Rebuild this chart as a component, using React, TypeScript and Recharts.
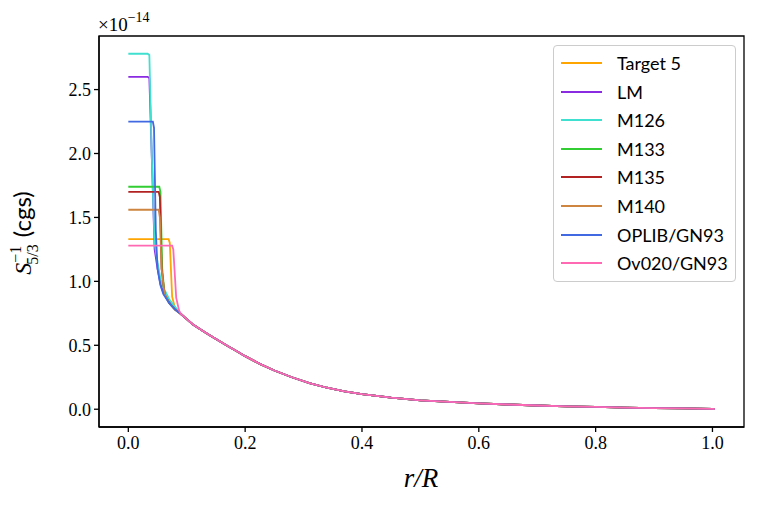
import { Line, LineChart, ReferenceArea, XAxis, YAxis } from 'recharts'

// shared tail of every profile (r/R, value in 1e-14 cgs)
const tailR = [0.09, 0.1, 0.11, 0.125, 0.14, 0.155, 0.17, 0.185, 0.2, 0.225, 0.25, 0.28, 0.31, 0.34, 0.37, 0.4, 0.45, 0.5, 0.55, 0.6, 0.65, 0.7, 0.75, 0.8, 0.85, 0.9, 0.95, 1.0, 1.004]
const tailV = [0.745, 0.705, 0.665, 0.62, 0.577, 0.535, 0.495, 0.455, 0.415, 0.355, 0.303, 0.25, 0.205, 0.168, 0.14, 0.118, 0.09, 0.07, 0.057, 0.046, 0.037, 0.029, 0.023, 0.018, 0.013, 0.009, 0.006, 0.003, 0.0]

// core parts (plateau + drop) per model
const target5R = [0, 0.069, 0.071, 0.075, 0.08]
const target5V = [1.33, 1.33, 1.3, 0.88, 0.79]
const lmR = [0, 0.033, 0.036, 0.04, 0.045, 0.05, 0.055, 0.06, 0.07, 0.08]
const lmV = [2.6, 2.6, 2.59, 2.0, 1.25, 1.1, 0.98, 0.91, 0.84, 0.79]
const m126R = [0, 0.033, 0.036, 0.04, 0.045, 0.05, 0.055, 0.06, 0.07, 0.08]
const m126V = [2.78, 2.78, 2.77, 2.0, 1.3, 1.15, 1.02, 0.95, 0.86, 0.8]
const m133R = [0, 0.053, 0.055, 0.058, 0.062, 0.07, 0.08]
const m133V = [1.74, 1.74, 1.7, 1.1, 0.9, 0.83, 0.78]
const m135R = [0, 0.052, 0.054, 0.057, 0.062, 0.07, 0.08]
const m135V = [1.7, 1.7, 1.66, 1.1, 0.9, 0.83, 0.78]
const m140R = [0, 0.052, 0.054, 0.057, 0.062, 0.07, 0.08]
const m140V = [1.56, 1.56, 1.5, 1.1, 0.9, 0.83, 0.78]
const oplibR = [0, 0.042, 0.044, 0.047, 0.05, 0.055, 0.06, 0.07, 0.08]
const oplibV = [2.25, 2.25, 2.2, 1.4, 1.1, 0.97, 0.9, 0.83, 0.78]
const ov020R = [0, 0.075, 0.077, 0.082, 0.087]
const ov020V = [1.28, 1.28, 1.25, 0.87, 0.77]

const xTicks = [0, 0.2, 0.4, 0.6, 0.8, 1.0]
const yTicks = [0, 0.5, 1.0, 1.5, 2.0, 2.5]

const series = [
  { name: 'Target 5', color: '#ffa500', r: target5R, v: target5V },
  { name: 'LM', color: '#8a2be2', r: lmR, v: lmV },
  { name: 'M126', color: '#40e0d0', r: m126R, v: m126V },
  { name: 'M133', color: '#32cd32', r: m133R, v: m133V },
  { name: 'M135', color: '#b22222', r: m135R, v: m135V },
  { name: 'M140', color: '#cd853f', r: m140R, v: m140V },
  { name: 'OPLIB/GN93', color: '#4169e1', r: oplibR, v: oplibV },
  { name: 'Ov020/GN93', color: '#ff69b4', r: ov020R, v: ov020V },
]

function buildRows(r: number[], v: number[]) {
  const rows = r.map((x, i) => ({ r: x, v: v[i] }))
  tailR.forEach((x, i) => rows.push({ r: x, v: tailV[i] }))
  return rows
}

const X_DOMAIN: [number, number] = [-0.0502, 1.054]
const Y_DOMAIN: [number, number] = [-0.139, 2.919]
const serif = '"Liberation Serif", "DejaVu Serif", serif'
const sans = 'Lato, "DejaVu Sans", sans-serif'
const tickStyle = { fontSize: 18, fontFamily: serif, fill: '#000' }

export default function App() {
  return (
    <div style={{ position: 'relative', width: 764, height: 509, background: '#fff' }}>
      <style>{'body{margin:0}'}</style>
      <LineChart width={764} height={509} margin={{ top: 36, right: 20, bottom: 52, left: 39 }}>
        <XAxis
          type="number"
          dataKey="r"
          domain={X_DOMAIN}
          ticks={xTicks}
          allowDataOverflow
          tickFormatter={(t: number) => t.toFixed(1)}
          tick={tickStyle}
          tickSize={5}
          tickMargin={4}
          height={30}
          stroke="#000"
          axisLine={{ stroke: '#000', strokeWidth: 1.3 }}
          tickLine={{ stroke: '#000', strokeWidth: 1.3 }}
          label={{
            content: () => (
              <text x={421} y={487} textAnchor="middle" fontFamily={serif} fontStyle="italic" fontSize={27} fill="#000">
                r/R
              </text>
            ),
          }}
        />
        <YAxis
          type="number"
          domain={Y_DOMAIN}
          ticks={yTicks}
          allowDataOverflow
          tickFormatter={(t: number) => t.toFixed(1)}
          tick={tickStyle}
          tickSize={5}
          tickMargin={3}
          width={60}
          axisLine={{ stroke: '#000', strokeWidth: 1.3 }}
          tickLine={{ stroke: '#000', strokeWidth: 1.3 }}
          label={{
            content: () => (
              <text transform="translate(31,233) rotate(-90)" x={0} y={0} textAnchor="middle" fontSize={24} fill="#000">
                <tspan fontFamily={serif} fontStyle="italic">S</tspan>
                <tspan fontFamily={serif} fontSize={16} dy={-10}>−1</tspan>
                <tspan fontFamily={serif} fontSize={16} dx={-19} dy={17}>5/3</tspan>
                <tspan fontFamily={sans} dx={7} dy={-7}>(cgs)</tspan>
              </text>
            ),
          }}
        />
        {series.map((s) => (
          <Line
            key={s.name}
            data={buildRows(s.r, s.v)}
            dataKey="v"
            name={s.name}
            type="linear"
            stroke={s.color}
            strokeWidth={1.8}
            dot={false}
            isAnimationActive={false}
          />
        ))}
        <ReferenceArea
          x1={X_DOMAIN[0]}
          x2={X_DOMAIN[1]}
          y1={Y_DOMAIN[0]}
          y2={Y_DOMAIN[1]}
          fill="none"
          fillOpacity={0}
          stroke="#000"
          strokeWidth={1.3}
          strokeOpacity={1}
          ifOverflow="visible"
        />
      </LineChart>
      <svg width={90} height={36} style={{ position: 'absolute', left: 98, top: 2 }}>
        <text x={0} y={29} fontFamily={serif} fontSize={19} fill="#000">
          ×10<tspan fontSize={14} dy={-9}>−14</tspan>
        </text>
      </svg>
      <div
        style={{
          position: 'absolute',
          left: 553,
          top: 45,
          width: 181,
          height: 235,
          border: '1px solid #ccc',
          borderRadius: 4,
          background: 'rgba(255,255,255,0.8)',
          fontFamily: sans,
          fontSize: 18,
        }}
      >
        {series.map((s, i) => (
          <div key={s.name} style={{ position: 'absolute', left: 0, top: 5 + i * 28.6, height: 24, display: 'flex', alignItems: 'center' }}>
            <span style={{ display: 'inline-block', marginLeft: 7, width: 41, height: 2, background: s.color }} />
            <span style={{ marginLeft: 15, color: '#000' }}>{s.name}</span>
          </div>
        ))}
      </div>
    </div>
  )
}
